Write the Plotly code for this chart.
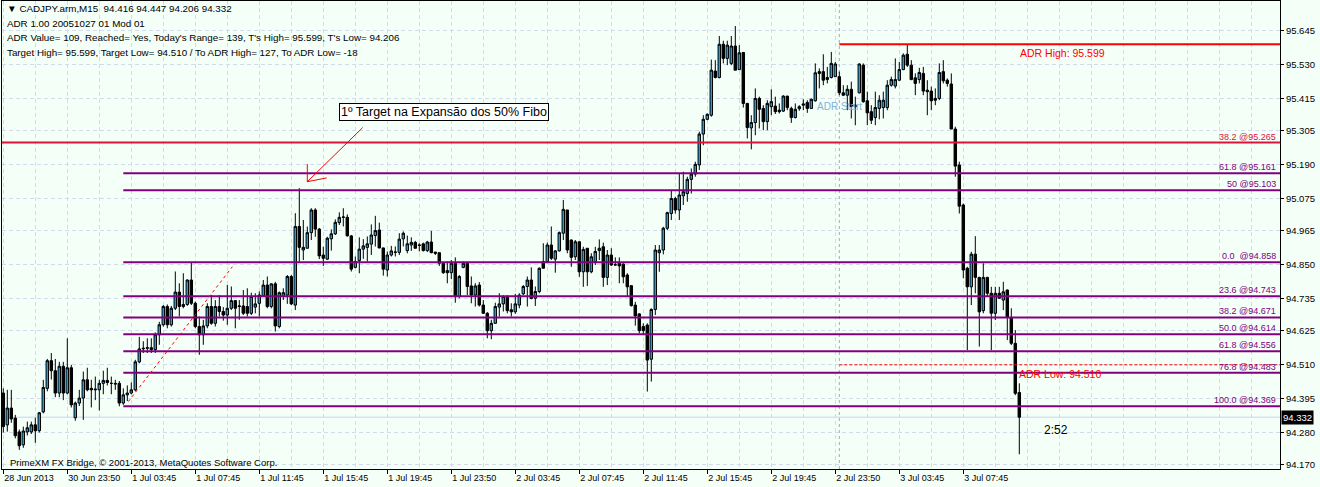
import plotly.graph_objects as go

# ---------------- data ----------------
open_ = [94.414, 94.306, 94.363, 94.329, 94.282, 94.238, 94.282, 94.282, 94.306, 94.286,
         94.350, 94.430, 94.524, 94.490, 94.414, 94.505, 94.414, 94.500, 94.330, 94.380,
         94.397, 94.459, 94.430, 94.425, 94.425, 94.447, 94.457, 94.447, 94.447, 94.447,
         94.380, 94.408, 94.414, 94.425, 94.520, 94.564, 94.566, 94.568, 94.562, 94.612,
         94.646, 94.708, 94.646, 94.702, 94.757, 94.708, 94.715, 94.798, 94.719, 94.640,
         94.612, 94.642, 94.708, 94.651, 94.708, 94.691, 94.679, 94.702, 94.728, 94.708,
         94.710, 94.708, 94.685, 94.706, 94.719, 94.744, 94.781, 94.708, 94.785, 94.640,
         94.742, 94.747, 94.810, 94.713, 94.980, 94.900, 94.906, 94.959, 95.036, 94.971,
         94.883, 94.869, 94.938, 94.955, 94.993, 95.011, 95.011, 94.948, 94.841, 94.864,
         94.903, 94.909, 94.920, 94.949, 94.968, 94.907, 94.832, 94.883, 94.892, 94.892,
         94.938, 94.898, 94.917, 94.926, 94.917, 94.921, 94.898, 94.927, 94.893, 94.891,
         94.855, 94.830, 94.823, 94.855, 94.742, 94.841, 94.855, 94.778, 94.747, 94.781,
         94.713, 94.685, 94.626, 94.651, 94.706, 94.717, 94.742, 94.697, 94.690, 94.713,
         94.751, 94.776, 94.798, 94.736, 94.759, 94.861, 94.861, 94.917, 94.869, 94.897,
         94.957, 95.036, 94.934, 94.877, 94.928, 94.826, 94.906, 94.826, 94.860, 94.898,
         94.911, 94.807, 94.883, 94.849, 94.855, 94.852, 94.815, 94.779, 94.713, 94.683,
         94.640, 94.645, 94.529, 94.698, 94.891, 94.900, 94.974, 95.024, 95.075, 95.036,
         95.084, 95.092, 95.140, 95.158, 95.189, 95.294, 95.344, 95.358, 95.508, 95.486,
         95.599, 95.551, 95.534, 95.593, 95.513, 95.571, 95.398, 95.315, 95.333, 95.415,
         95.381, 95.336, 95.387, 95.389, 95.375, 95.372, 95.423, 95.381, 95.350, 95.380,
         95.392, 95.401, 95.381, 95.407, 95.506, 95.506, 95.479, 95.486, 95.489, 95.489,
         95.434, 95.426, 95.446, 95.392, 95.434, 95.528, 95.407, 95.370, 95.350, 95.381,
         95.384, 95.384, 95.460, 95.457, 95.477, 95.513, 95.565, 95.528, 95.485, 95.479,
         95.500, 95.443, 95.440, 95.415, 95.415, 95.506, 95.477, 95.464, 95.311, 95.189,
         95.053, 94.838, 94.775, 94.886, 94.807, 94.694, 94.807, 94.753, 94.685, 94.753,
         94.730, 94.764, 94.671, 94.583, 94.416]
high = [94.430, 94.425, 94.425, 94.340, 94.290, 94.300, 94.317, 94.317, 94.330, 94.350,
        94.459, 94.530, 94.550, 94.530, 94.520, 94.520, 94.600, 94.510, 94.385, 94.425,
        94.487, 94.500, 94.459, 94.470, 94.459, 94.490, 94.500, 94.470, 94.459, 94.455,
        94.430, 94.440, 94.450, 94.527, 94.605, 94.590, 94.600, 94.600, 94.620, 94.656,
        94.713, 94.715, 94.710, 94.827, 94.787, 94.821, 94.800, 94.858, 94.725, 94.674,
        94.663, 94.719, 94.747, 94.730, 94.747, 94.706, 94.781, 94.776, 94.730, 94.730,
        94.764, 94.770, 94.755, 94.753, 94.759, 94.798, 94.810, 94.787, 94.792, 94.759,
        94.770, 94.815, 94.815, 95.025, 95.110, 95.002, 94.980, 95.042, 95.042, 94.975,
        94.911, 94.945, 94.970, 95.004, 95.028, 95.042, 95.021, 94.951, 94.878, 94.943,
        94.937, 94.946, 94.987, 95.016, 94.993, 94.908, 94.895, 94.914, 94.912, 94.957,
        94.963, 94.949, 94.943, 94.931, 94.923, 94.925, 94.931, 94.965, 94.893, 94.891,
        94.857, 94.861, 94.866, 94.875, 94.815, 94.861, 94.855, 94.810, 94.787, 94.791,
        94.730, 94.689, 94.663, 94.721, 94.753, 94.747, 94.747, 94.719, 94.751, 94.753,
        94.781, 94.810, 94.841, 94.776, 94.841, 94.923, 94.925, 94.980, 94.900, 94.963,
        95.070, 95.036, 94.936, 94.934, 94.928, 94.911, 94.906, 94.889, 94.911, 94.936,
        94.925, 94.900, 94.906, 94.875, 94.875, 94.855, 94.821, 94.779, 94.724, 94.685,
        94.651, 94.651, 94.702, 94.917, 94.917, 94.979, 95.030, 95.104, 95.081, 95.160,
        95.166, 95.149, 95.177, 95.200, 95.302, 95.358, 95.364, 95.547, 95.545, 95.627,
        95.611, 95.611, 95.627, 95.661, 95.596, 95.573, 95.400, 95.358, 95.449, 95.421,
        95.392, 95.409, 95.446, 95.421, 95.398, 95.426, 95.423, 95.387, 95.398, 95.392,
        95.412, 95.409, 95.415, 95.534, 95.517, 95.565, 95.522, 95.573, 95.539, 95.506,
        95.460, 95.460, 95.472, 95.421, 95.534, 95.534, 95.438, 95.392, 95.438, 95.426,
        95.438, 95.477, 95.489, 95.551, 95.539, 95.568, 95.599, 95.545, 95.500, 95.519,
        95.522, 95.477, 95.455, 95.449, 95.534, 95.545, 95.483, 95.500, 95.319, 95.200,
        95.058, 94.843, 94.894, 94.947, 94.809, 94.855, 94.809, 94.775, 94.775, 94.775,
        94.792, 94.766, 94.702, 94.628, 94.447]
low = [94.280, 94.283, 94.313, 94.260, 94.221, 94.228, 94.270, 94.275, 94.245, 94.280,
       94.345, 94.420, 94.460, 94.400, 94.400, 94.390, 94.410, 94.365, 94.320, 94.370,
       94.323, 94.420, 94.365, 94.390, 94.355, 94.410, 94.440, 94.410, 94.425, 94.369,
       94.374, 94.387, 94.410, 94.420, 94.515, 94.550, 94.550, 94.550, 94.550, 94.578,
       94.640, 94.634, 94.640, 94.696, 94.674, 94.702, 94.710, 94.713, 94.634, 94.544,
       94.578, 94.634, 94.646, 94.640, 94.674, 94.660, 94.646, 94.696, 94.634, 94.663,
       94.679, 94.674, 94.679, 94.685, 94.674, 94.742, 94.702, 94.702, 94.623, 94.634,
       94.730, 94.717, 94.713, 94.696, 94.860, 94.866, 94.906, 94.934, 94.945, 94.869,
       94.846, 94.866, 94.898, 94.951, 94.985, 94.980, 94.946, 94.827, 94.838, 94.821,
       94.870, 94.861, 94.883, 94.912, 94.906, 94.813, 94.810, 94.878, 94.878, 94.883,
       94.912, 94.889, 94.897, 94.905, 94.895, 94.895, 94.893, 94.889, 94.883, 94.846,
       94.819, 94.787, 94.801, 94.721, 94.736, 94.838, 94.747, 94.719, 94.708, 94.708,
       94.683, 94.600, 94.597, 94.649, 94.674, 94.691, 94.685, 94.674, 94.683, 94.702,
       94.747, 94.708, 94.733, 94.710, 94.753, 94.838, 94.857, 94.866, 94.823, 94.895,
       94.934, 94.889, 94.843, 94.866, 94.809, 94.775, 94.778, 94.821, 94.849, 94.866,
       94.775, 94.781, 94.846, 94.846, 94.787, 94.787, 94.741, 94.708, 94.643, 94.617,
       94.611, 94.419, 94.453, 94.679, 94.826, 94.885, 94.968, 95.002, 95.024, 95.002,
       95.053, 95.064, 95.092, 95.149, 95.172, 95.256, 95.341, 95.353, 95.483, 95.483,
       95.534, 95.528, 95.528, 95.511, 95.511, 95.384, 95.279, 95.242, 95.290, 95.313,
       95.307, 95.307, 95.358, 95.362, 95.364, 95.369, 95.375, 95.332, 95.347, 95.373,
       95.375, 95.366, 95.381, 95.404, 95.449, 95.460, 95.466, 95.483, 95.489, 95.426,
       95.423, 95.375, 95.347, 95.324, 95.432, 95.400, 95.324, 95.328, 95.324, 95.344,
       95.347, 95.375, 95.455, 95.449, 95.475, 95.511, 95.522, 95.477, 95.426, 95.466,
       95.426, 95.358, 95.375, 95.392, 95.409, 95.466, 95.455, 95.311, 95.149, 95.024,
       94.804, 94.560, 94.713, 94.753, 94.572, 94.685, 94.741, 94.560, 94.662, 94.736,
       94.696, 94.594, 94.577, 94.407, 94.206]
close = [94.300, 94.363, 94.326, 94.269, 94.235, 94.285, 94.296, 94.306, 94.286, 94.347,
         94.433, 94.524, 94.490, 94.414, 94.505, 94.414, 94.500, 94.374, 94.380, 94.397,
         94.459, 94.425, 94.425, 94.427, 94.447, 94.457, 94.450, 94.447, 94.445, 94.380,
         94.408, 94.414, 94.425, 94.520, 94.564, 94.566, 94.568, 94.562, 94.612, 94.646,
         94.708, 94.646, 94.702, 94.757, 94.708, 94.715, 94.798, 94.719, 94.640, 94.612,
         94.642, 94.708, 94.651, 94.708, 94.691, 94.679, 94.702, 94.728, 94.702, 94.710,
         94.685, 94.685, 94.742, 94.717, 94.747, 94.781, 94.708, 94.785, 94.642, 94.755,
         94.755, 94.810, 94.717, 94.980, 94.909, 94.909, 94.959, 95.036, 94.971, 94.880,
         94.872, 94.940, 94.955, 94.994, 95.011, 95.012, 94.948, 94.835, 94.861, 94.903,
         94.914, 94.921, 94.951, 94.966, 94.907, 94.835, 94.883, 94.897, 94.893, 94.937,
         94.957, 94.921, 94.926, 94.906, 94.916, 94.898, 94.927, 94.891, 94.889, 94.855,
         94.823, 94.823, 94.855, 94.742, 94.810, 94.855, 94.776, 94.747, 94.778, 94.713,
         94.685, 94.626, 94.651, 94.708, 94.717, 94.742, 94.694, 94.690, 94.717, 94.747,
         94.776, 94.798, 94.735, 94.759, 94.838, 94.838, 94.917, 94.872, 94.897, 94.959,
         95.038, 94.900, 94.875, 94.928, 94.826, 94.902, 94.826, 94.877, 94.895, 94.906,
         94.807, 94.883, 94.849, 94.850, 94.846, 94.809, 94.775, 94.711, 94.676, 94.626,
         94.626, 94.526, 94.698, 94.900, 94.900, 94.974, 95.027, 95.075, 95.036, 95.087,
         95.098, 95.140, 95.158, 95.191, 95.294, 95.344, 95.361, 95.511, 95.486, 95.599,
         95.551, 95.596, 95.593, 95.511, 95.570, 95.398, 95.316, 95.333, 95.415, 95.378,
         95.336, 95.398, 95.404, 95.370, 95.370, 95.423, 95.384, 95.350, 95.378, 95.387,
         95.396, 95.381, 95.412, 95.502, 95.500, 95.477, 95.486, 95.534, 95.532, 95.434,
         95.426, 95.446, 95.387, 95.387, 95.532, 95.404, 95.366, 95.341, 95.384, 95.409,
         95.409, 95.460, 95.479, 95.479, 95.513, 95.562, 95.528, 95.479, 95.466, 95.503,
         95.440, 95.438, 95.407, 95.409, 95.503, 95.475, 95.466, 95.311, 95.185, 95.049,
         94.832, 94.775, 94.886, 94.807, 94.690, 94.807, 94.753, 94.685, 94.753, 94.736,
         94.758, 94.671, 94.583, 94.413, 94.332]
bars = list(range(len(close)))

tick_bars = [0, 16, 32, 48, 64, 80, 96, 112, 128, 144, 160, 176, 192, 208, 224, 240]
tick_text = ["28 Jun 2013", "30 Jun 23:50", "1 Jul 03:45", "1 Jul 07:45", "1 Jul 11:45",
             "1 Jul 15:45", "1 Jul 19:45", "1 Jul 23:50", "2 Jul 03:45", "2 Jul 07:45",
             "2 Jul 11:45", "2 Jul 15:45", "2 Jul 19:45", "2 Jul 23:50", "3 Jul 03:45",
             "3 Jul 07:45"]
price_ticks = [94.170, 94.280, 94.395, 94.510, 94.625, 94.735, 94.850, 94.965,
               95.075, 95.190, 95.305, 95.415, 95.530, 95.645]

fib_labels = ["38.2 @95.265", "61.8 @95.161", "50 @95.103", "0.0\u00a0 @94.858",
              "23.6 @94.743", "38.2 @94.671", "50.0 @94.614", "61.8 @94.556",
              "76.8 @94.483", "100.0 @94.369"]
fib_levels = [95.265, 95.161, 95.103, 94.858, 94.743, 94.671, 94.614, 94.556,
              94.483, 94.369]
fib_start_bar = 30

adr_high = 95.599
adr_low = 94.510
adr_start_bar = 209
bid = 94.332
header = ["\u25bc CADJPY.arm,M15  94.416 94.447 94.206 94.332",
          "ADR 1.00 20051027 01 Mod 01",
          "ADR Value= 109, Reached= Yes, Today's Range= 139, T's High= 95.599, T's Low= 94.206",
          "Target High= 95.599, Target Low= 94.510 / To ADR High= 127, To ADR Low= -18"]
copyright_text = "PrimeXM FX Bridge, \u00a9 2001-2013, MetaQuotes Software Corp."
target_note = "1\u00ba Target na Expans\u00e3o dos 50% Fibo"
countdown = "2:52"

# ---------------- styling ----------------
BG = "#F4FFF8"
GRID = "#D3DAEC"
PURPLE = "#800080"
CRIMSON = "#DC143C"
RED = "#FF0000"
BULL = "#1E9FDB"
FONT = "Liberation Sans"

X0, X1 = -0.325, 319.175
Y0, Y1 = 94.156, 95.746

fig = go.Figure()
fig.add_trace(go.Candlestick(
    x=bars, open=open_, high=high, low=low, close=close,
    increasing=dict(line=dict(color="black", width=1), fillcolor=BULL),
    decreasing=dict(line=dict(color="black", width=1), fillcolor="black"),
    whiskerwidth=0, hoverinfo="skip", showlegend=False))

shapes = []
shapes.append(dict(type="line", xref="paper", x0=0, x1=1, yref="y", y0=bid, y1=bid,
                   line=dict(color="#C9D3F2", width=1), layer="below"))
for k, lv in enumerate(fib_levels):
    if k == 0:
        shapes.append(dict(type="line", xref="paper", x0=0, x1=1, yref="y", y0=lv, y1=lv,
                           line=dict(color=CRIMSON, width=2), layer="above"))
    else:
        shapes.append(dict(type="line", xref="x", x0=fib_start_bar, x1=X1, yref="y", y0=lv, y1=lv,
                           line=dict(color=PURPLE, width=2), layer="above"))
shapes.append(dict(type="line", xref="x", x0=adr_start_bar, x1=X1, yref="y", y0=adr_high, y1=adr_high,
                   line=dict(color=RED, width=2), layer="above"))
shapes.append(dict(type="line", xref="x", x0=adr_start_bar, x1=X1, yref="y", y0=adr_low, y1=adr_low,
                   line=dict(color=RED, width=1, dash="3px,2px"), layer="above"))
shapes.append(dict(type="line", xref="x", x0=adr_start_bar, x1=adr_start_bar, yref="paper", y0=0, y1=1,
                   line=dict(color="#A8A8A8", width=1, dash="3px,3px"), layer="below"))
shapes.append(dict(type="line", xref="x", yref="y", x0=31.25, y0=94.385, x1=57.25, y1=94.843,
                   line=dict(color=RED, width=1, dash="3px,3px"), layer="above"))
shapes.append(dict(type="line", xref="x", yref="y", x0=89.85, y0=95.316, x1=76.0, y1=95.132,
                   line=dict(color=RED, width=1), layer="above"))
shapes.append(dict(type="line", xref="x", yref="y", x0=76.0, y0=95.132, x1=76.0, y1=95.192,
                   line=dict(color=RED, width=1), layer="above"))
shapes.append(dict(type="line", xref="x", yref="y", x0=76.0, y0=95.132, x1=80.85, y1=95.145,
                   line=dict(color=RED, width=1), layer="above"))

ann = []
for k, (lab, lv) in enumerate(zip(fib_labels, fib_levels)):
    ann.append(dict(xref="paper", x=0.9985, yref="y", y=lv, text=lab, showarrow=False,
                    xanchor="right", yanchor="bottom", yshift=-1,
                    font=dict(family=FONT, size=9, color=CRIMSON if k == 0 else PURPLE)))
ann.append(dict(xref="x", x=253.7, yref="y", y=adr_high, text="ADR High: 95.599", showarrow=False,
                xanchor="left", yanchor="top", yshift=-1, font=dict(family=FONT, size=10.5, color=RED)))
ann.append(dict(xref="x", x=253.5, yref="y", y=adr_low, text="ADR Low: 94.510", showarrow=False,
                xanchor="left", yanchor="top", yshift=-1, font=dict(family=FONT, size=10.5, color=RED)))
ann.append(dict(xref="x", x=adr_start_bar, yref="y", y=95.389, text="ADR Start", showarrow=False,
                xanchor="center", yanchor="middle", font=dict(family=FONT, size=10, color="#7DB4D8")))
ann.append(dict(xref="x", x=110.2, yref="y", y=95.369, text=target_note, showarrow=False,
                xanchor="center", yanchor="middle", bgcolor="#FFFFFF", bordercolor="black",
                borderwidth=1, borderpad=1, font=dict(family=FONT, size=12.5, color="black")))
ann.append(dict(xref="x", x=259.7, yref="y", y=94.29, text=countdown, showarrow=False,
                xanchor="left", yanchor="middle", font=dict(family=FONT, size=12, color="black")))
ann.append(dict(xref="paper", x=1, yref="y", y=bid, text="%.3f" % bid, showarrow=False,
                xanchor="left", yanchor="middle", xshift=1, bgcolor="black", borderpad=1,
                font=dict(family=FONT, size=9.5, color="white")))
ys = [8.3, 23.0, 37.6, 52.2]
for t, yp in zip(header, ys):
    ann.append(dict(xref="paper", x=(5 - 2) / 1278, yref="paper", y=(469 - yp) / 468, text=t,
                    showarrow=False, xanchor="left", yanchor="middle",
                    font=dict(family=FONT, size=9.8, color="black")))
ann.append(dict(xref="paper", x=(8 - 2) / 1278, yref="paper", y=(469 - 462) / 468, text=copyright_text,
                showarrow=False, xanchor="left", yanchor="middle",
                font=dict(family=FONT, size=9.5, color="black")))

fig.update_layout(
    width=1320, height=487, margin=dict(l=2, r=40, t=1, b=18),
    paper_bgcolor=BG, plot_bgcolor=BG, showlegend=False, boxgap=0.12,
    shapes=shapes, annotations=ann,
    xaxis=dict(range=[X0, X1], tickmode="array", tickvals=tick_bars, ticktext=tick_text,
               ticklabelposition="outside right", ticks="outside", ticklen=4, tickcolor="black",
               tickfont=dict(family=FONT, size=9, color="black"),
               showline=True, mirror=True, linecolor="black", linewidth=1,
               showgrid=True, gridcolor=GRID, griddash="4px,3px", gridwidth=1, zeroline=False,
               minor=dict(tickmode="linear", tick0=0, dtick=8, showgrid=True, gridcolor=GRID,
                          griddash="4px,3px", ticks=""),
               rangeslider=dict(visible=False), fixedrange=True),
    yaxis=dict(range=[Y0, Y1], side="right", tickmode="array", tickvals=price_ticks,
               ticktext=["%.3f" % v for v in price_ticks], ticks="outside", ticklen=3,
               tickcolor="black", tickfont=dict(family=FONT, size=9.5, color="black"),
               showline=True, mirror=True, linecolor="black", linewidth=1,
               showgrid=True, gridcolor=GRID, griddash="4px,3px", zeroline=False, fixedrange=True),
)
fig.write_html("out.html", config={"displayModeBar": False},
               post_script="document.body.style.margin='0px';document.body.style.overflow='hidden';"
                           "document.body.style.background='" + BG + "';")
